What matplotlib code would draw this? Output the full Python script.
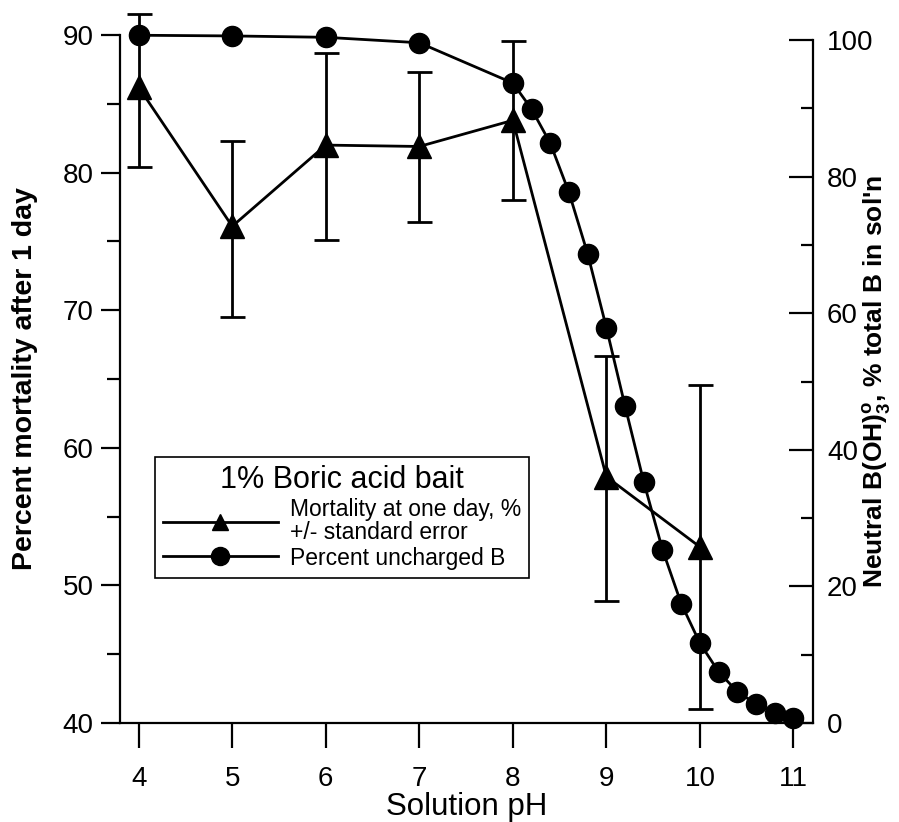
import numpy as np
import matplotlib
matplotlib.use("Agg")
import matplotlib.pyplot as plt
from matplotlib.lines import Line2D
from matplotlib.ticker import MultipleLocator

plt.rcParams['font.family'] = ['Liberation Sans', 'DejaVu Sans']
plt.rcParams['mathtext.fontset'] = 'custom'
plt.rcParams['mathtext.rm'] = 'Liberation Sans'
plt.rcParams['mathtext.bf'] = 'Liberation Sans:bold'

# mortality after 1 day (left axis), with standard error bar ends
ph_mort = [4, 5, 6, 7, 8, 9, 10]
mortality = [86.2, 76.1, 82.0, 81.9, 83.8, 57.9, 52.8]
err_top = [91.5, 82.3, 88.7, 87.3, 89.6, 66.7, 64.6]
err_bot = [80.4, 69.5, 75.1, 76.4, 78.0, 48.9, 41.0]

# percent uncharged boron (right axis)
ph_b = [4, 5, 6, 7, 8, 8.2, 8.4, 8.6, 8.8, 9.0, 9.2, 9.4, 9.6, 9.8,
        10, 10.2, 10.4, 10.6, 10.8, 11]
uncharged = [100.7, 100.6, 100.4, 99.6, 93.7, 89.9, 84.9, 77.7, 68.7, 57.9,
             46.4, 35.3, 25.4, 17.5, 11.7, 7.5, 4.6, 2.8, 1.5, 0.8]

mort = np.array(mortality)
yerr = [mort - np.array(err_bot), np.array(err_top) - mort]

fig = plt.figure(figsize=(8.99, 8.22), dpi=100)
left, width, bottom = 0.1335, 0.7709, 0.1204
ax1 = fig.add_axes([left, bottom, width, 0.8370])
ax2 = fig.add_axes([left, bottom, width, 0.8309], sharex=ax1)
ax2.patch.set_visible(False)

# mortality series
ax1.errorbar(ph_mort, mortality, yerr=yerr, color='black', lw=2,
             marker='^', markersize=17, ecolor='black', elinewidth=2,
             capsize=9, capthick=2, clip_on=False, zorder=3)

# uncharged boron series
ax2.plot(ph_b, uncharged, color='black', lw=2, marker='o', markersize=14.5,
         clip_on=False, zorder=3)

ax1.set_xlim(3.8, 11.21)
ax1.set_ylim(40, 90)
ax2.set_ylim(0, 100)

for s in ['top', 'right']:
    ax1.spines[s].set_visible(False)
for s in ['top', 'left', 'bottom']:
    ax2.spines[s].set_visible(False)
for sp in list(ax1.spines.values()) + list(ax2.spines.values()):
    sp.set_linewidth(1.6)

ax1.xaxis.set_major_locator(MultipleLocator(1))
ax1.yaxis.set_major_locator(MultipleLocator(10))
ax1.yaxis.set_minor_locator(MultipleLocator(5))
ax1.tick_params(axis='x', direction='out', length=18, width=1.6, pad=13,
                labelsize=20)
ax1.tick_params(axis='y', which='major', direction='out', length=14,
                width=1.6, pad=5, labelsize=20)
ax1.tick_params(axis='y', which='minor', direction='out', length=9.5,
                width=1.6)

ax2.xaxis.set_visible(False)
ax2.yaxis.tick_right()
ax2.yaxis.set_label_position('right')
ax2.yaxis.set_major_locator(MultipleLocator(20))
ax2.yaxis.set_minor_locator(MultipleLocator(10))
ax2.tick_params(axis='y', which='major', direction='in', length=17,
                width=1.6, pad=10, labelsize=20)
ax2.tick_params(axis='y', which='minor', direction='in', length=9,
                width=1.6)

ax1.set_xlabel('Solution pH', fontsize=22.5, labelpad=0)
ax1.set_ylabel('Percent mortality after 1 day', fontsize=20.5,
               fontweight='bold')
ax1.yaxis.set_label_coords(-0.118, 0.5)
ax2.set_ylabel(r"Neutral B(OH)$_\mathbf{3}^\mathbf{o}$, % total B in sol'n",
               fontsize=19, fontweight='bold')
ax2.yaxis.set_label_coords(1.069, 0.5)

handles = [
    Line2D([], [], color='black', lw=2, marker='^', markersize=11),
    Line2D([], [], color='black', lw=2, marker='o', markersize=13),
]
labels = ['Mortality at one day, %\n+/- standard error',
          'Percent uncharged B']
leg = ax1.legend(handles, labels, title='1% Boric acid bait',
                 title_fontsize=22, fontsize=16.5, loc='upper left',
                 bbox_to_anchor=(155 / 899, 1 - 457 / 822),
                 bbox_transform=fig.transFigure, borderaxespad=0,
                 handlelength=5.0, fancybox=False, framealpha=1,
                 edgecolor='black', borderpad=0.35, labelspacing=0.12,
                 handletextpad=0.55)
leg.get_frame().set_linewidth(1.2)
for t in leg.get_texts():
    t.set_linespacing(1.0)

fig.savefig('out.png', dpi=100)
